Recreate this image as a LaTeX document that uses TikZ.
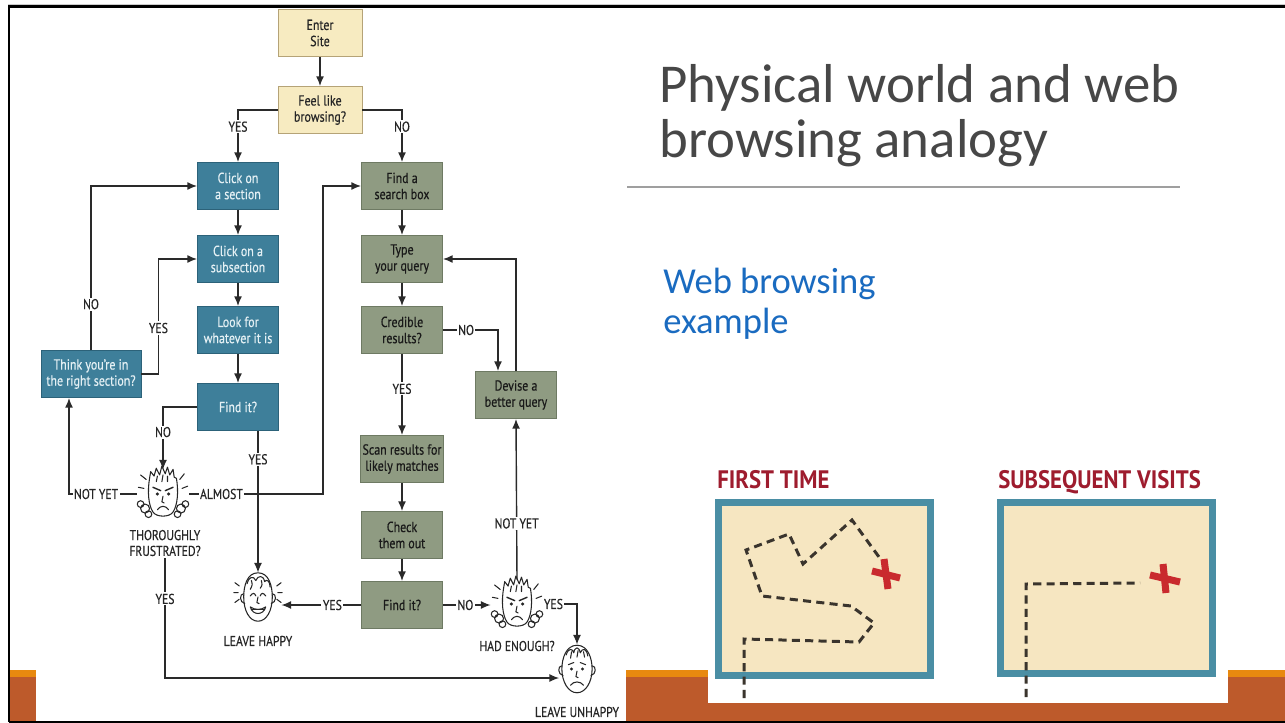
\documentclass[tikz,border=0pt]{standalone}
\usepackage{fontspec}
\setmainfont{Carlito}
\newfontfamily\condfont[FakeStretch=0.82, FakeBold=0.4]{PT Sans}
\newfontfamily\mapfont[FakeStretch=0.9]{PT Sans Bold}
\newfontfamily\slidefont{Carlito}
\usetikzlibrary{arrows.meta}

\definecolor{beigebox}{HTML}{F7EBC1}
\definecolor{beigeedge}{HTML}{B5A377}
\definecolor{bluebox}{HTML}{3E7F9A}
\definecolor{blueedge}{HTML}{2C6279}
\definecolor{bluetext}{HTML}{E4F0F4}
\definecolor{greenbox}{HTML}{8F9B82}
\definecolor{greenedge}{HTML}{6E7A63}
\definecolor{inkline}{HTML}{2A2A2A}
\definecolor{titlegray}{HTML}{474747}
\definecolor{accentblue}{HTML}{1A6BC0}
\definecolor{barorange}{HTML}{E8890F}
\definecolor{barrust}{HTML}{BD5A2B}
\definecolor{mapteal}{HTML}{4A8EA4}
\definecolor{mapsand}{HTML}{F6E6C1}
\definecolor{mapred}{HTML}{C92A2E}
\definecolor{maplabel}{HTML}{9E1C2E}
\definecolor{pathink}{HTML}{3A342D}

\newcommand{\boxfont}{\condfont\fontsize{8.3}{9.2}\selectfont}
\newcommand{\lblfont}{\condfont\fontsize{8.1}{9}\selectfont}

\tikzset{
  box/.style={rectangle, minimum width=1.62cm, minimum height=0.94cm,
    inner sep=1pt, align=center, font=\boxfont, line width=0.5pt},
  startbox/.style={box, minimum width=1.68cm, fill=beigebox, draw=beigeedge, text=black!85},
  browsebox/.style={box, fill=bluebox, draw=blueedge, text=bluetext},
  searchbox/.style={box, fill=greenbox, draw=greenedge, text=black!90},
  conn/.style={draw=inkline, line width=0.8pt, -{Latex[length=5.5pt,width=4.5pt]}},
  lbl/.style={fill=white, inner sep=0.8pt, font=\lblfont, text=black!85},
  facelbl/.style={inner sep=1pt, align=center, font=\lblfont, text=black!85},
  facebox/.style={rectangle, inner sep=0pt, minimum height=0.96cm},
  faceline/.style={draw=black!85, line width=0.6pt, line cap=round, line join=round},
  maplbl/.style={inner sep=0pt, font=\mapfont\fontsize{14.4}{16}\selectfont, text=maplabel},
  mapframe/.style={draw=mapteal, line width=0.14cm, fill=mapsand},
  trail/.style={draw=pathink, line width=1.7pt, dash pattern=on 4.6pt off 3pt},
  xmark/.style={draw=mapred, line width=4pt},
  pics/frustface/.style={code={
    % steam puffs beside the cheeks
    \draw[faceline, fill=white] (-16,13) circle (0.08cm) (-20,9) circle (0.06cm) (-13,18) circle (0.06cm);
    \draw[faceline, fill=white] (16,13) circle (0.08cm) (20,9) circle (0.06cm) (13,18) circle (0.06cm);
    % head
    \draw[faceline, fill=white] (-12,-14) .. controls (-14,-2) and (-13,10) .. (-9,16)
      .. controls (-6,21) and (6,21) .. (9,16) .. controls (13,10) and (14,-2) .. (12,-14);
    % spiky hair
    \draw[faceline] (-12,-14) -- (-11,-20) -- (-8,-16) -- (-6,-23) -- (-3,-17) -- (-1,-25)
      -- (2,-18) -- (4,-24) -- (6,-17) -- (9,-22) -- (10,-15) -- (12,-14);
    \draw[faceline] (-6,-11) -- (-5,-16) (-1,-11) -- (0,-17) (4,-11) -- (4,-16);
    % angry brows and eyes
    \draw[faceline, line width=0.8pt] (-9,-6) -- (-2,-3) (9,-6) -- (2,-3);
    \fill[black!85] (-5,0) circle (0.03cm) (5,0) circle (0.03cm);
    % nose and frown
    \draw[faceline] (0,2) -- (-1,7) -- (1,8);
    \draw[faceline] (-5,14) .. controls (-2,10) and (2,10) .. (5,14);
    % agitation marks
    \draw[faceline] (-15,-13) -- (-20,-17) (-17,-5) -- (-22,-6) (15,-13) -- (19,-18) (17,-5) -- (22,-7);
  }},
  pics/happyface/.style={code={
    % head
    \draw[faceline, fill=white] (0,-22) .. controls (10,-22) and (13,-10) .. (13,0)
      .. controls (13,12) and (8,22) .. (0,22) .. controls (-8,22) and (-13,12) .. (-13,0)
      .. controls (-13,-10) and (-10,-22) .. (0,-22);
    % hair
    \draw[faceline] (-10,-12) .. controls (-9,-18) and (-4,-20) .. (-2,-15)
      .. controls (0,-20) and (5,-20) .. (6,-14) .. controls (8,-17) and (11,-14) .. (11,-9);
    \draw[faceline] (-6,-15) .. controls (-5,-11) .. (-7,-7);
    \draw[faceline] (3,-15) .. controls (4,-11) .. (2,-8);
    % ears
    \draw[faceline] (-13,-3) .. controls (-17,-3) and (-17,5) .. (-12,6);
    \draw[faceline] (13,-3) .. controls (17,-3) and (17,5) .. (12,6);
    % eyes
    \draw[faceline] (-7,-1) .. controls (-5,-4) and (-3,-4) .. (-2,-1);
    \draw[faceline] (2,-1) .. controls (3,-4) and (5,-4) .. (7,-1);
    % nose and grin
    \draw[faceline] (0,0) -- (-1,5) -- (1,6);
    \draw[faceline, fill=white] (-7,9) .. controls (-3,12) and (3,12) .. (7,9)
      .. controls (5,17) and (-5,17) .. (-7,9);
    \draw[faceline] (-6,11.5) -- (6,11.5);
    % excitement marks
    \draw[faceline] (-17,-10) -- (-21,-13) (-18,-4) -- (-22,-4) (-17,2) -- (-21,5)
      (17,-10) -- (21,-13) (18,-4) -- (22,-4) (17,2) -- (21,5);
  }},
  pics/sadface/.style={code={
    % head
    \draw[faceline, fill=white] (0,-22) .. controls (10,-22) and (14,-10) .. (14,0)
      .. controls (14,12) and (8,22) .. (0,22) .. controls (-8,22) and (-14,12) .. (-14,0)
      .. controls (-14,-10) and (-10,-22) .. (0,-22);
    % ruffled hair
    \draw[faceline] (-10,-13) .. controls (-8,-20) and (-4,-19) .. (-3,-15)
      .. controls (-2,-21) and (2,-21) .. (3,-15) .. controls (5,-20) and (9,-19) .. (10,-12);
    \draw[faceline] (-5,-16) -- (-6,-10) (1,-17) -- (0,-11) (6,-16) -- (7,-11);
    % ears
    \draw[faceline] (-14,-3) .. controls (-18,-3) and (-18,5) .. (-13,6);
    \draw[faceline] (14,-3) .. controls (18,-3) and (18,5) .. (13,6);
    % worried brows and eyes
    \draw[faceline] (-8,-4) -- (-3,-6) (8,-4) -- (3,-6);
    \fill[black!85] (-5,0) circle (0.03cm) (5,0) circle (0.03cm);
    % nose and downturned mouth
    \draw[faceline] (0,2) -- (-1,7) -- (1,8);
    \draw[faceline] (-6,15) .. controls (-3,11) and (3,11) .. (6,15);
  }}
}

\begin{document}
\begin{tikzpicture}[x=0.02cm, y=-0.02cm]
\useasboundingbox (0,0) rectangle (1285,723);
\fill[white] (0,0) rectangle (1285,723);

% ---------- slide frame and footer bars ----------
\draw[gray!40, line width=0.5pt] (8,4) -- (1285,4);
\fill[barorange] (10,670) rectangle (36,678);
\fill[barrust] (10,677) rectangle (36,721);
\fill[barorange] (626,670) rectangle (1285,678);
\fill[barrust] (626,677) rectangle (1285,721);
\draw[black, line width=1.3pt] (9,722) -- (9,6.5) -- (1285,6.5);
\draw[black, line width=1.3pt] (9,722) -- (1285,722);

% ---------- title block ----------
\node[anchor=base west, inner sep=0pt, text=titlegray, font=\slidefont\fontsize{31.2}{31.2}\selectfont] (title1) at (659,103) {Physical world and web};
\node[anchor=base west, inner sep=0pt, text=titlegray, font=\slidefont\fontsize{31.2}{31.2}\selectfont] (title2) at (659,157) {browsing analogy};
\draw[gray!75, line width=0.6pt] (627,187) -- (1180,187);
\node[anchor=base west, inner sep=0pt, text=accentblue, font=\slidefont\fontsize{20.8}{20.8}\selectfont] (sub1) at (663,293) {Web browsing};
\node[anchor=base west, inner sep=0pt, text=accentblue, font=\slidefont\fontsize{20.8}{20.8}\selectfont] (sub2) at (663,333) {example};

% ---------- flowchart boxes ----------
\node[startbox] (enter) at (320,33) {Enter\\Site};
\node[startbox] (feel) at (320,110) {Feel like\\browsing?};
\node[browsebox] (sec) at (238,186) {Click on\\a section};
\node[browsebox] (subsec) at (238,259) {Click on a\\subsection};
\node[browsebox] (look) at (238,330) {Look for\\whatever it is};
\node[browsebox] (findA) at (238,407) {Find it?};
\node[browsebox, minimum width=2cm] (think) at (91,374) {Think you’re in\\the right section?};
\node[searchbox] (search) at (402,186) {Find a\\search box};
\node[searchbox] (query) at (402,259) {Type\\your query};
\node[searchbox] (cred) at (402,330) {Credible\\results?};
\node[searchbox] (scan) at (402,459) {Scan results for\\likely matches};
\node[searchbox] (check) at (402,535) {Check\\them out};
\node[searchbox] (findB) at (402,605) {Find it?};
\node[searchbox] (devise) at (516,395) {Devise a\\better query};

% ---------- faces ----------
\node[facebox, minimum width=1.04cm] (frus) at (163,494) {};
\pic[scale=1.12] at (163,494) {frustface};
\node[facebox, minimum width=0.92cm] (happy) at (258,597) {};
\pic[scale=1.1] at (258,597) {happyface};
\node[facebox, minimum width=1.04cm] (enough) at (517,604) {};
\pic[scale=1.12] at (517,604) {frustface};
\node[facebox, minimum width=0.7cm] (unhappy) at (577,669) {};
\pic[scale=1.08] at (577,669) {sadface};

\node[facelbl] (frustlbl) at (165,543) {THOROUGHLY\\FRUSTRATED?};
\node[facelbl] (happylbl) at (258,641) {LEAVE HAPPY};
\node[facelbl] (enoughlbl) at (517,646) {HAD ENOUGH?};
\node[facelbl] (unhappylbl) at (577,712) {LEAVE UNHAPPY};

% ---------- connectors ----------
\draw[conn] (enter) -- (feel);
\draw[conn] (feel.west) -| node[lbl, pos=0.66] {YES} (sec.north);
\draw[conn] (feel.east) -| node[lbl, pos=0.66] {NO} (search.north);
\draw[conn] (sec) -- (subsec);
\draw[conn] (subsec) -- (look);
\draw[conn] (look) -- (findA);
\draw[conn] (findA.west) -| node[lbl, pos=0.7] {NO} (frus.north);
\draw[conn] (findA.south -| happy.north) -- node[lbl, pos=0.2] {YES} (happy.north);
\draw[conn] (frus.west) -| node[lbl, pos=0.3] {NOT YET} ([xshift=-0.44cm]think.south);
\draw[conn] (frus.east) -| node[lbl, pos=0.12] {ALMOST} ([xshift=-0.76cm]search.west) -- (search.west);
\draw[conn] (think.north) |- node[lbl, pos=0.14] {NO} (sec.west);
\draw[conn] (think.east) -- ++(17,0) |- node[lbl, pos=0.2] {YES} (subsec.west);
\draw[conn] (search) -- (query);
\draw[conn] (query) -- (cred);
\draw[conn] (cred) -- node[lbl, pos=0.43] {YES} (scan);
\draw[conn] (scan) -- (check);
\draw[conn] (check) -- (findB);
\draw[conn] (cred.east) -| node[lbl, pos=0.21] {NO} ([xshift=-0.36cm]devise.north);
\draw[conn] (devise.north) |- (query.east);
\draw[conn] (findB.west) -- node[lbl, pos=0.36] {YES} (findB.west -| happy.east);
\draw[conn] (findB.east) -- node[lbl, pos=0.47] {NO} (findB.east -| enough.west);
\draw[conn] (enough.north) -- node[lbl, pos=0.35] {NOT YET} (devise.south);
\draw[conn] (enough.east) -| node[lbl, pos=0.15] {YES} (unhappy.north);
\draw[conn] (frustlbl.south) |- node[lbl, pos=0.17] {YES} ([yshift=-0.18cm]unhappy.west);

% ---------- map illustration ----------
\fill[white] (708,452) rectangle (1228,703);
\node[maplbl, anchor=base west] (firstlbl) at (717,488) {FIRST TIME};
\node[maplbl, anchor=base west] (subseqlbl) at (998,488) {SUBSEQUENT VISITS};
\draw[mapframe] (718.5,502.5) rectangle (930.5,675.5);
\draw[mapframe] (1000.5,502.5) rectangle (1212.5,673.5);
\draw[trail] (744,698) -- (744,639) -- (859,642) -- (874,623) -- (851,606) -- (762,596)
  -- (746,550) -- (789,534) -- (803,564) -- (852,520) -- (879,557);
\draw[xmark] (884,559) -- (888,589);
\draw[xmark] (872,571) -- (900,578);
\draw[trail] (1026,697) -- (1026,584) -- (1140,583);
\draw[xmark] (1163,564) -- (1166,593);
\draw[xmark] (1150,575) -- (1180,582);
\end{tikzpicture}
\end{document}
